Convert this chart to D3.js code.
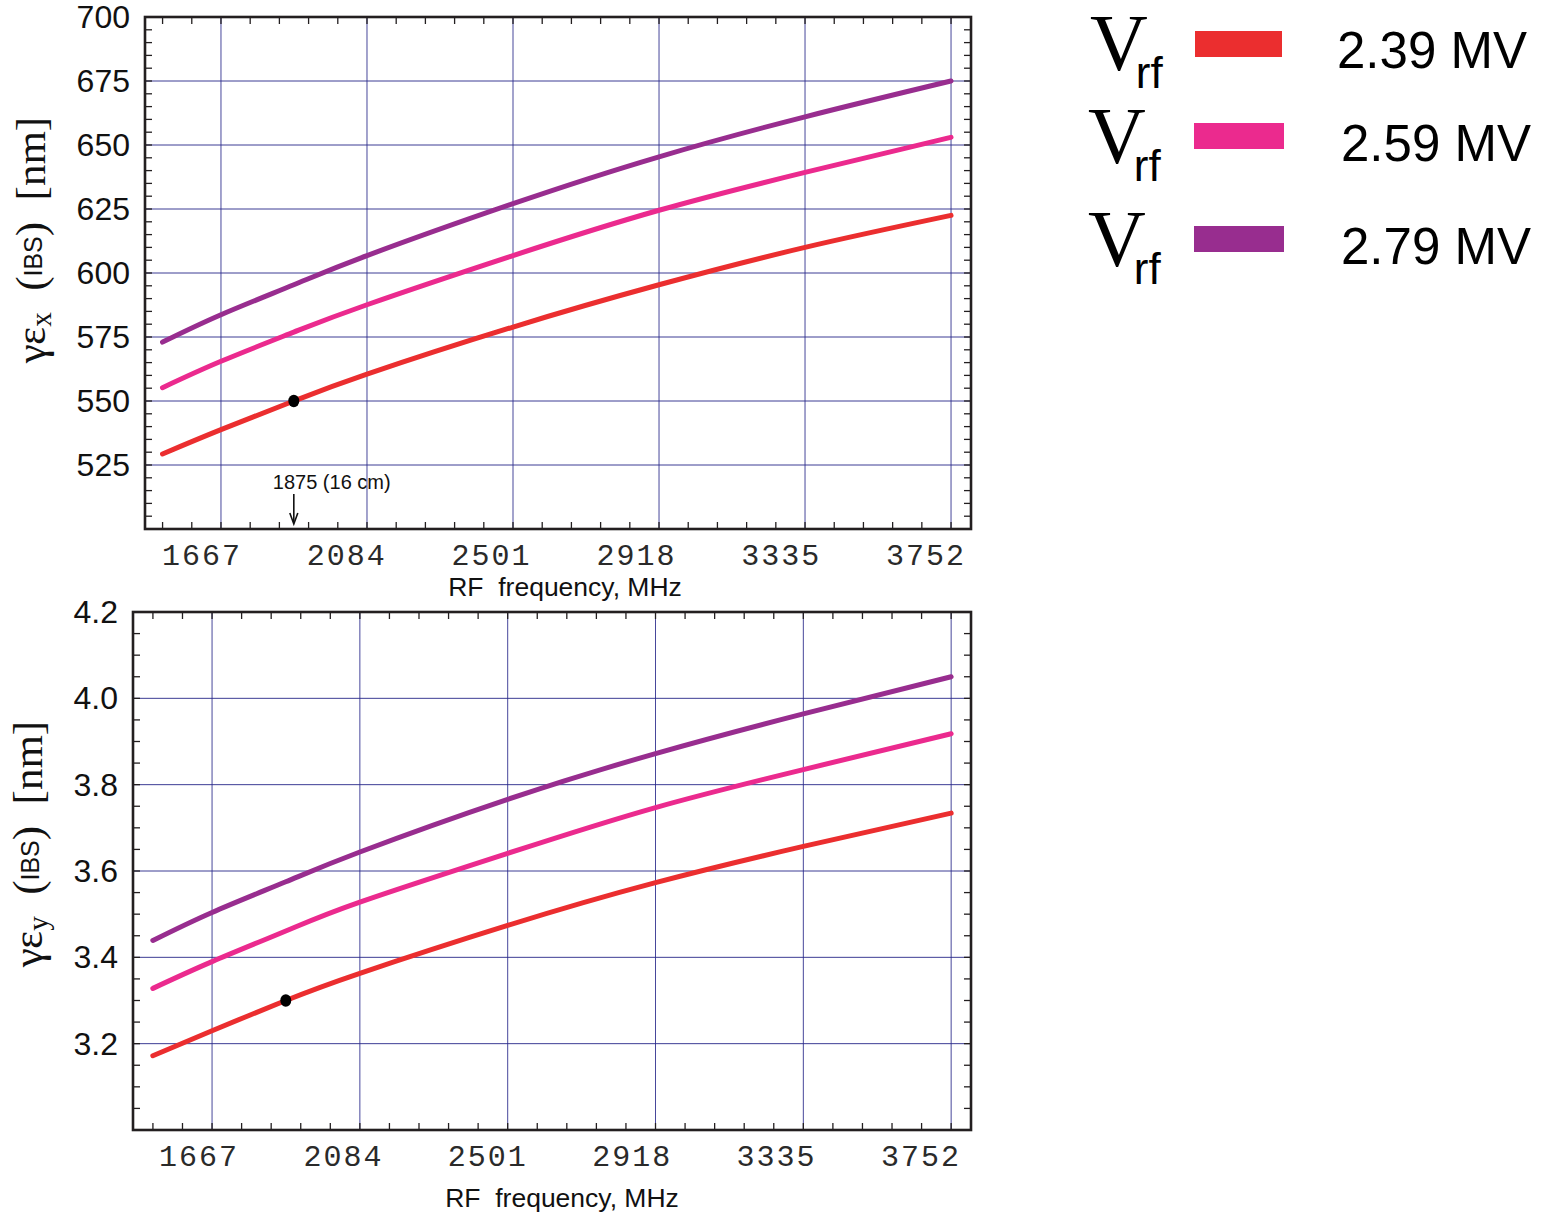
<!DOCTYPE html>
<html>
<head>
<meta charset="utf-8">
<script src="https://cdn.jsdelivr.net/npm/d3@7"></script>
<style>
  html, body { margin: 0; padding: 0; background: #fff; }
  svg { display: block; }
</style>
</head>
<body>
<svg id="chart" width="1557" height="1214"></svg>
<script>
// RF frequency samples (MHz) along each curve
const freqs = [1500, 1667, 1875, 2084, 2501, 2918, 3335, 3752];

// Horizontal emittance γε_x (IBS), nm
const ex239 = [529.3, 538.8, 550.0, 560.5, 578.9, 595.4, 610.0, 622.5];
const ex259 = [555.2, 565.5, 576.9, 587.6, 606.8, 624.5, 639.3, 653.0];
const ex279 = [573.0, 583.7, 595.4, 606.8, 627.1, 645.4, 661.0, 675.0];

// Vertical emittance γε_y (IBS), nm
const ey239 = [3.172, 3.230, 3.300, 3.363, 3.474, 3.573, 3.657, 3.734];
const ey259 = [3.328, 3.390, 3.461, 3.528, 3.641, 3.747, 3.835, 3.918];
const ey279 = [3.439, 3.504, 3.575, 3.644, 3.766, 3.872, 3.964, 4.050];

// Voltage labels and colours
const voltages = ["2.39 MV", "2.59 MV", "2.79 MV"];
const colors = ["#eb2e2f", "#eb2a8e", "#982d8f"];

// Axis ticks
const xMajor = [1667, 2084, 2501, 2918, 3335, 3752];
const xMinorStep = 417 / 5;
const yxTicks = [525, 550, 575, 600, 625, 650, 675, 700];
const yyTicks = [3.2, 3.4, 3.6, 3.8, 4.0, 4.2];

// Operating point marker
const opFreq = 1875;
const opEx = 550.0;
const opEy = 3.300;
const opLabel = "1875 (16 cm)";

const svg = d3.select("#chart");

const panels = [
  {
    x: d3.scaleLinear().domain([1450, 3809]).range([145, 971]),
    y: d3.scaleLinear().domain([500, 700]).range([529, 17]),
    // tick labels sit slightly left of their grid lines
    xLabel: d3.scaleLinear().domain([1667, 3752]).range([202, 926]),
    series: [ex239, ex259, ex279],
    yTicks: yxTicks, yGrid: yxTicks.slice(0, -1), yMinor: 5, yFmt: d3.format("d"),
    opY: opEx, sub: "x", titleCY: 240, titleX: 33,
    xTitleY: 596, xTitleX: 565
  },
  {
    x: d3.scaleLinear().domain([1444, 3808]).range([133, 971]),
    y: d3.scaleLinear().domain([3.0, 4.2]).range([1130, 612]),
    xLabel: d3.scaleLinear().domain([1667, 3752]).range([199, 921]),
    series: [ey239, ey259, ey279],
    yTicks: yyTicks, yGrid: yyTicks.slice(0, -1), yMinor: 0.05, yFmt: d3.format(".1f"),
    opY: opEy, sub: "y", titleCY: 844, titleX: 30,
    xTitleY: 1207, xTitleX: 562
  }
];

const gridColor = "#28288a";
const frameColor = "#231f20";

panels.forEach((p, pi) => {
  const g = svg.append("g");
  const [x0, x1] = p.x.range();
  const [y0, y1] = p.y.range(); // y0 bottom, y1 top

  // grid lines
  g.selectAll(".vg").data(xMajor).join("line")
    .attr("x1", d => p.x(d)).attr("x2", d => p.x(d))
    .attr("y1", y1).attr("y2", y0)
    .attr("stroke", gridColor).attr("stroke-width", 1).attr("opacity", 0.85);
  g.selectAll(".hg").data(p.yGrid).join("line")
    .attr("x1", x0).attr("x2", x1)
    .attr("y1", d => p.y(d)).attr("y2", d => p.y(d))
    .attr("stroke", gridColor).attr("stroke-width", 1).attr("opacity", 0.9);

  // inward minor ticks on all four sides
  const xMinor = d3.range(0, 28).map(i => xMajor[0] - 2 * xMinorStep + i * xMinorStep);
  const yDom = p.y.domain();
  const nY = Math.round((yDom[1] - yDom[0]) / p.yMinor);
  const yMinor = d3.range(0, nY + 1).map(i => yDom[0] + i * p.yMinor);
  const tl = 7;
  g.selectAll(".xtb").data(xMinor).join("line")
    .attr("x1", d => p.x(d)).attr("x2", d => p.x(d))
    .attr("y1", y0).attr("y2", y0 - tl)
    .attr("stroke", frameColor).attr("stroke-width", 1.3);
  g.selectAll(".xtt").data(xMinor).join("line")
    .attr("x1", d => p.x(d)).attr("x2", d => p.x(d))
    .attr("y1", y1).attr("y2", y1 + tl)
    .attr("stroke", frameColor).attr("stroke-width", 1.3);
  g.selectAll(".ytl").data(yMinor).join("line")
    .attr("x1", x0).attr("x2", x0 + tl)
    .attr("y1", d => p.y(d)).attr("y2", d => p.y(d))
    .attr("stroke", frameColor).attr("stroke-width", 1.3);
  g.selectAll(".ytr").data(yMinor).join("line")
    .attr("x1", x1).attr("x2", x1 - tl)
    .attr("y1", d => p.y(d)).attr("y2", d => p.y(d))
    .attr("stroke", frameColor).attr("stroke-width", 1.3);

  // curves
  const line = d3.line()
    .x((d, i) => p.x(freqs[i]))
    .y(d => p.y(d))
    .curve(d3.curveNatural);
  p.series.forEach((s, si) => {
    g.append("path").datum(s)
      .attr("d", line)
      .attr("fill", "none")
      .attr("stroke", colors[si])
      .attr("stroke-width", 5)
      .attr("stroke-linecap", "round");
  });

  // operating point
  g.append("ellipse")
    .attr("cx", p.x(opFreq)).attr("cy", p.y(p.opY))
    .attr("rx", 5.5).attr("ry", 6.2)
    .attr("fill", "#000");

  // frame
  g.append("rect")
    .attr("x", x0).attr("y", y1)
    .attr("width", x1 - x0).attr("height", y0 - y1)
    .attr("fill", "none").attr("stroke", frameColor).attr("stroke-width", 2.6);

  // x tick labels (monospace)
  g.selectAll(".xl").data(xMajor).join("text")
    .attr("x", d => p.xLabel(d))
    .attr("y", y0 + 36)
    .attr("text-anchor", "middle")
    .attr("font-family", "'Liberation Mono', 'Courier New', monospace")
    .attr("font-size", 30)
    .attr("letter-spacing", 2)
    .attr("fill", "#2a2a2a")
    .text(d => d);

  // y tick labels
  g.selectAll(".yl").data(p.yTicks).join("text")
    .attr("x", x0 - 15)
    .attr("y", d => p.y(d) + 11)
    .attr("text-anchor", "end")
    .attr("font-family", "'Liberation Sans', Arial, sans-serif")
    .attr("font-size", 32)
    .attr("fill", "#111")
    .text(d => p.yFmt(d));

  // x axis title
  g.append("text")
    .attr("x", p.xTitleX)
    .attr("y", p.xTitleY)
    .attr("text-anchor", "middle")
    .attr("font-family", "'Liberation Sans', Arial, sans-serif")
    .attr("font-size", 26.5)
    .attr("fill", "#111")
    .attr("xml:space", "preserve")
    .text("RF  frequency, MHz");

  // y axis title: γε_sub (IBS) [nm]
  const t = g.append("text")
    .attr("transform", `translate(${p.titleX + 12},${p.titleCY}) rotate(-90)`)
    .attr("text-anchor", "middle")
    .attr("font-family", "'Liberation Serif', 'Times New Roman', serif")
    .attr("font-size", 43)
    .attr("fill", "#111")
    .attr("xml:space", "preserve");
  t.append("tspan").text("γε");
  t.append("tspan").attr("font-size", 29).attr("dy", 6).text(p.sub);
  t.append("tspan").attr("dy", -6).text("  (");
  t.append("tspan").attr("font-family", "'Liberation Sans', Arial, sans-serif")
    .attr("font-size", 25).attr("dy", -3).text("IBS");
  t.append("tspan").attr("dy", 3).text(")  [nm]");
});

// annotation on the upper panel
{
  const p = panels[0];
  const ax = p.x(opFreq);
  svg.append("text")
    .attr("x", ax - 21).attr("y", 489)
    .attr("font-family", "'Liberation Sans', Arial, sans-serif")
    .attr("font-size", 20)
    .attr("fill", "#111")
    .text(opLabel);
  svg.append("line")
    .attr("x1", ax).attr("x2", ax)
    .attr("y1", 494).attr("y2", 523)
    .attr("stroke", "#111").attr("stroke-width", 1.6);
  svg.append("path")
    .attr("d", `M${ax - 4},${513} L${ax},${524} L${ax + 4},${513}`)
    .attr("fill", "none").attr("stroke", "#111").attr("stroke-width", 1.6);
}

// legend
const legendRows = [
  { vx: 1090, vY: 70, rect: [1195, 31, 87, 26], labelX: 1337, labelY: 68 },
  { vx: 1088, vY: 163, rect: [1194, 123, 90, 26], labelX: 1341, labelY: 161 },
  { vx: 1088, vY: 266, rect: [1194, 226, 90, 26], labelX: 1341, labelY: 264 }
];
const lg = svg.append("g");
voltages.forEach((v, i) => {
  const r = legendRows[i];
  const vt = lg.append("text")
    .attr("x", r.vx).attr("y", r.vY)
    .attr("font-family", "'Liberation Serif', 'Times New Roman', serif")
    .attr("font-size", 80)
    .attr("fill", "#000");
  vt.append("tspan").text("V");
  vt.append("tspan")
    .attr("dx", -12).attr("dy", 18)
    .attr("font-family", "'Liberation Sans', Arial, sans-serif")
    .attr("font-size", 44)
    .text("rf");
  lg.append("rect")
    .attr("x", r.rect[0]).attr("y", r.rect[1])
    .attr("width", r.rect[2]).attr("height", r.rect[3])
    .attr("fill", colors[i]);
  lg.append("text")
    .attr("x", r.labelX).attr("y", r.labelY)
    .attr("font-family", "'Liberation Sans', Arial, sans-serif")
    .attr("font-size", 51)
    .attr("fill", "#000")
    .text(v);
});
</script>
</body>
</html>
